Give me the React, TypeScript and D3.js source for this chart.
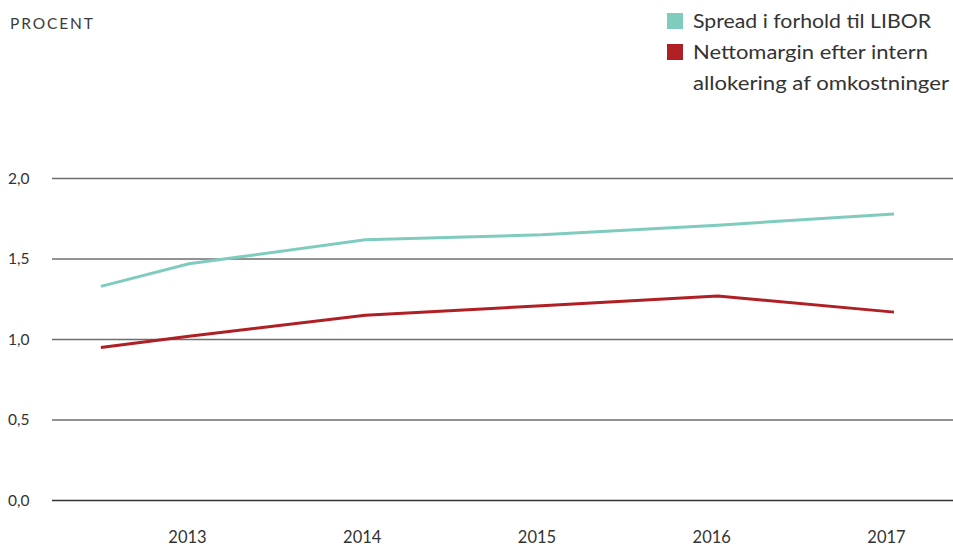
import React from "react";
import * as d3 from "d3";

const years = [2012.5, 2013, 2014, 2015, 2016, 2017];
const spreadValues = [1.33, 1.47, 1.62, 1.65, 1.71, 1.78];
const marginValues = [0.95, 1.02, 1.15, 1.21, 1.27, 1.17];
const yearLabels = [2013, 2014, 2015, 2016, 2017];
const yTicks = [0, 0.5, 1.0, 1.5, 2.0];
const seriesNames = ["Spread i forhold til LIBOR", "Nettomargin efter intern", "allokering af omkostninger"];

const W = 953;
const H = 548;
const TEAL = "#7fccbf";
const RED = "#b01f24";
const FONT = "Lato, 'Open Sans', sans-serif";

export default function App() {
  const x = d3.scaleLinear().domain([2013, 2017]).range([189, 894]);
  const xLabel = d3.scalePoint<number>().domain(yearLabels).range([187.5, 886.5]);
  const y = d3.scaleLinear().domain([0, 2]).range([500.5, 178.5]);
  const line = d3
    .line<number>()
    .x((_, i) => x(years[i]))
    .y((d) => y(d));

  return (
    <svg
      width={W}
      height={H}
      style={{ position: "absolute", left: 0, top: 0, background: "#fff" }}
    >
      <text x={10} y={29} fontFamily={FONT} fontSize={15.5} fill="#3a3a3a" textLength={83} lengthAdjust="spacing">
        PROCENT
      </text>

      {yTicks.map((t) => (
        <g key={t}>
          <line
            x1={52}
            x2={W}
            y1={y(t)}
            y2={y(t)}
            stroke={t === 0 ? "#333" : "#6e6e6e"}
            strokeWidth={1.3}
          />
          <text
            x={8}
            y={y(t) + 5}
            fontFamily={FONT}
            fontSize={15.5}
            fill="#333"
          >
            {d3.format(".1f")(t).replace(".", ",")}
          </text>
        </g>
      ))}

      {yearLabels.map((yr) => (
        <text
          key={yr}
          x={xLabel(yr)}
          y={543}
          textAnchor="middle"
          fontFamily={FONT}
          fontSize={16.5}
          fill="#333"
        >
          {yr}
        </text>
      ))}

      <path d={line(spreadValues) || ""} fill="none" stroke={TEAL} strokeWidth={3} />
      <path d={line(marginValues) || ""} fill="none" stroke={RED} strokeWidth={3} />

      <rect x={667} y={13} width={16} height={16} fill={TEAL} />
      <rect x={667} y={44} width={16} height={16} fill={RED} />
      <text x={693} y={28} fontFamily={FONT} fontSize={19.5} fill="#333" textLength={238} lengthAdjust="spacingAndGlyphs">
        {seriesNames[0]}
      </text>
      <text x={693} y={59} fontFamily={FONT} fontSize={19.5} fill="#333" textLength={235} lengthAdjust="spacingAndGlyphs">
        {seriesNames[1]}
      </text>
      <text x={693} y={90} fontFamily={FONT} fontSize={19.5} fill="#333" textLength={256} lengthAdjust="spacingAndGlyphs">
        {seriesNames[2]}
      </text>
    </svg>
  );
}
